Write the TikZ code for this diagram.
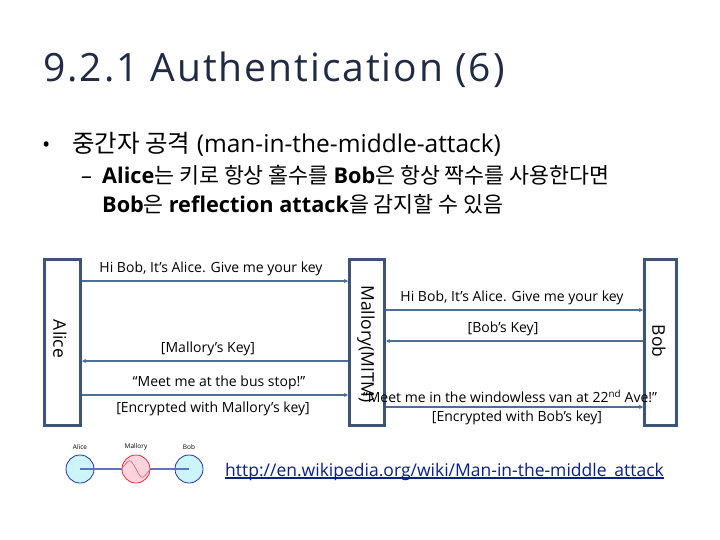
\documentclass[tikz,border=0pt]{standalone}
\usepackage{fontspec}
\setmainfont{Open Sans}
\newfontfamily\krf{Noto Sans CJK KR}
\newcommand{\kr}[1]{{\krf #1}}
\usetikzlibrary{arrows.meta}
\definecolor{titlec}{HTML}{1F2A44}
\definecolor{boxc}{HTML}{3B5477}
\definecolor{arrc}{HTML}{4D6E96}
\definecolor{linkc}{HTML}{0B1F8A}
\definecolor{cyanf}{HTML}{CCF5FA}
\definecolor{navyb}{HTML}{2233AA}
\definecolor{pinkf}{HTML}{FCD4DC}
\definecolor{redb}{HTML}{E03040}
\begin{document}
\begin{tikzpicture}[x=1pt,y=-1pt,
  actor/.style={draw=boxc,line width=3pt,fill=white,anchor=north west,inner sep=0pt},
  msg/.style={draw=arrc,line width=1.5pt,-{Stealth[length=4pt,width=4pt]}},
  lbl/.style={font=\fontsize{14}{16}\selectfont,inner sep=0pt,text=black},
  vlbl/.style={font=\fontsize{17.5}{20}\selectfont,inner sep=0pt,rotate=-90},
  peer/.style={circle,draw=navyb,fill=cyanf,line width=0.8pt,minimum size=28pt,inner sep=0pt},
  tiny/.style={font=\fontsize{6.5}{7}\selectfont,inner sep=0pt}]
\useasboundingbox (0,0) rectangle (720,540);
\fill[white] (0,0) rectangle (720,540);
% title
\node[anchor=base west,inner sep=0pt,text=titlec,font=\fontsize{39}{46}\selectfont\addfontfeature{LetterSpace=5}] (title) at (43,82) {9.2.1 Authentication (6)};
% bullets
\node[anchor=base west,inner sep=0pt,font=\fontsize{22}{24}\selectfont] (b1) at (42,153) {•};
\node[anchor=base west,inner sep=0pt,font=\fontsize{24.5}{26}\selectfont] (t1) at (72,153) {\kr{중간자 공격} (man-in-the-middle-attack)};
\node[anchor=base west,inner sep=0pt,font=\fontsize{21.7}{23}\selectfont] (b2) at (81,184) {–};
\node[anchor=base west,inner sep=0pt,font=\fontsize{21.7}{23}\selectfont] (t2) at (102,184) {\textbf{Alice}\kr{는 키로 항상 홀수를 }\textbf{Bob}\kr{은 항상 짝수를 사용한다면}};
\node[anchor=base west,inner sep=0pt,font=\fontsize{21.7}{23}\selectfont] (t3) at (102,213) {\textbf{Bob}\kr{은 }\textbf{reflection attack}\kr{을 감지할 수 있음}};
% actors
\node[actor,minimum width=36pt,minimum height=166pt] (alice) at (43,258) {};
\node[actor,minimum width=35pt,minimum height=166pt] (mallory) at (348,258) {};
\node[actor,minimum width=32pt,minimum height=166pt] (bob) at (643,258) {};
\node[vlbl] (alicet) at (60,339) {Alice};
\node[vlbl] (malt) at (366,344) {Mallory(MITM)};
\node[vlbl] (bobt) at (659,341) {Bob};
% coordinates for messages
\coordinate (a1) at (alice.east |- 0,281);
\coordinate (m1) at (mallory.west |- 0,281);
\coordinate (a2) at (alice.east |- 0,361);
\coordinate (m2) at (mallory.west |- 0,361);
\coordinate (a3) at (alice.east |- 0,395);
\coordinate (m3) at (mallory.west |- 0,395);
\coordinate (n1) at (mallory.east |- 0,310);
\coordinate (o1) at (bob.west |- 0,310);
\coordinate (n2) at (mallory.east |- 0,341);
\coordinate (o2) at (bob.west |- 0,341);
\coordinate (n3) at (mallory.east |- 0,407);
\coordinate (o3) at (bob.west |- 0,407);
\draw[msg] (a1) -- (m1);
\draw[msg] (m2) -- (a2);
\draw[msg] (a3) -- (m3);
\draw[msg] (n1) -- (o1);
\draw[msg] (o2) -- (n2);
\draw[msg] (n3) -- (o3);
% labels
\node[lbl] (l1) at (211,269) {Hi Bob, It’s Alice. Give me your key};
\node[lbl] (l2) at (208,349) {[Mallory’s Key]};
\node[lbl] (l3) at (219,383) {“Meet me at the bus stop!”};
\node[lbl] (l4) at (213,409) {[Encrypted with Mallory’s key]};
\node[lbl] (r1) at (512,298) {Hi Bob, It’s Alice. Give me your key};
\node[lbl] (r2) at (503,329) {[Bob’s Key]};
\node[lbl] (r3) at (510,396) {“Meet me in the windowless van at 22\textsuperscript{nd} Ave!”};
\node[lbl] (r4) at (517,418) {[Encrypted with Bob’s key]};
% small network icon
\node[peer] (pa) at (80,469) {};
\node[peer,draw=redb,fill=pinkf] (pm) at (136,469) {};
\node[peer] (pb) at (189,469) {};
\draw[navyb!70,line width=1.2pt] (pa.center) -- (pm.west);
\draw[navyb!70,line width=1.2pt] (pm.east) -- (pb.center);
\draw[redb!80,line width=0.6pt] (pm.west) .. controls (130,458) and (130,458) .. (pm.center) .. controls (142,480) and (142,480) .. (pm.east);
\node[tiny] (pat) at (80,447) {Alice};
\node[tiny] (pmt) at (136,447) {Mallory};
\node[tiny] (pbt) at (189,447) {Bob};
% link
\node[anchor=base west,inner sep=0pt,text=linkc,font=\fontsize{17.5}{19}\selectfont] (link) at (225,476) {http://en.wikipedia.org/wiki/Man-in-the-middle\_attack};
\draw[linkc,line width=1.2pt] (link.base west) ++(0,2) -- ([yshift=-2pt]link.base east);
\end{tikzpicture}
\end{document}
